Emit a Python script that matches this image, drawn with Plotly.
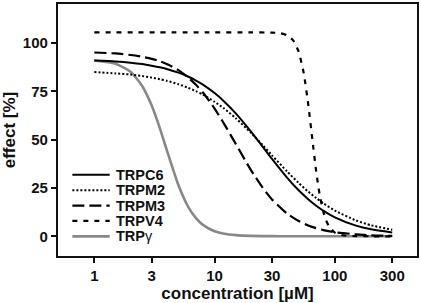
import plotly.graph_objects as go

# ---- data ----
conc = [1, 1.5, 2, 2.5, 3, 3.5, 4, 5, 6, 7, 8, 10, 12, 15, 20, 25, 30, 40, 50,
        60, 70, 80, 100, 150, 200, 300]
trpc6 = [90.9, 90.4, 89.8, 89.1, 88.3, 87.5, 86.6, 84.7, 82.7, 80.6, 78.5, 74.1,
         69.8, 63.6, 54.3, 46.5, 40.0, 30.4, 23.8, 19.2, 15.8, 13.3, 9.8, 5.5, 3.6, 2.0]
trpm2 = [85.0, 84.3, 83.7, 82.9, 82.1, 81.3, 80.5, 78.7, 76.9, 75.1, 73.3, 69.6,
         66.1, 61.1, 53.6, 47.3, 41.9, 33.6, 27.6, 23.1, 19.8, 17.1, 13.3, 8.2, 5.7, 3.4]
trpm3 = [95.1, 94.6, 93.8, 92.9, 91.8, 90.6, 89.2, 86.0, 82.3, 78.4, 74.4, 66.1,
         58.2, 47.8, 34.4, 25.3, 19.1, 11.8, 7.9, 5.6, 4.2, 3.2, 2.1, 1.0, 0.5, 0.2]
trpg = [91.0, 89.3, 85.1, 77.8, 67.7, 56.1, 44.7, 26.5, 15.5, 9.4, 5.9, 2.6,
        1.3, 0.6, 0.2, 0.1, 0.1, 0.0, 0.0, 0.0, 0.0, 0.0, 0.0, 0.0, 0.0, 0.0]
conc_v4 = [1, 10, 20, 30, 35, 40, 45, 50, 55, 60, 65, 70, 75, 80, 85, 90, 100,
           120, 150, 200, 300]
trpv4 = [105.5, 105.5, 105.5, 105.4, 105.1, 104.0, 101.4, 95.5, 84.7, 68.5, 50.1,
         33.4, 21.0, 12.9, 7.9, 4.9, 1.9, 0.4, 0.1, 0.0, 0.0]

names = ["<b>TRPC6</b>", "<b>TRPM2</b>", "<b>TRPM3</b>", "<b>TRPV4</b>", "<b>TRP</b>γ"]
xs = [conc, conc, conc, conc_v4, conc]
ys = [trpc6, trpm2, trpm3, trpv4, trpg]
colors = ["#000000", "#000000", "#000000", "#000000", "#888888"]
widths = [2, 2, 2.2, 2.2, 2.6]
dashes = ["solid", "2px,2px", "12px,5px", "5px,6px", "solid"]

x_ticks = [1, 3, 10, 30, 100, 300]
y_ticks = [0, 25, 50, 75, 100]

FONT = "Liberation Sans, Arial, sans-serif"

fig = go.Figure()
order = [4, 0, 1, 2, 3]
for i in order:
    fig.add_trace(go.Scatter(
        x=xs[i], y=ys[i], mode="lines", name=names[i], showlegend=False,
        line=dict(color=colors[i], width=widths[i], dash=dashes[i],
                  shape="spline", smoothing=0.6),
    ))

# legend drawn as keys + labels (compact spacing as in the original)
leg_y0 = 0.322
leg_step = 0.061
shapes = []
annotations = []
for i, nm in enumerate(names):
    yy = leg_y0 - i * leg_step
    shapes.append(dict(type="line", xref="paper", yref="paper",
                       x0=0.040, x1=0.144, y0=yy, y1=yy,
                       line=dict(color=colors[i], width=widths[i], dash=dashes[i])))
    annotations.append(dict(xref="paper", yref="paper", x=0.155, y=yy,
                            xanchor="left", yanchor="middle", text=nm,
                            showarrow=False,
                            font=dict(family=FONT, size=14.5, color="#111111")))

axis_common = dict(
    showline=True, linecolor="#111111", linewidth=2.2, mirror=True,
    ticks="outside", ticklen=5, tickwidth=2, tickcolor="#111111",
    showgrid=False, zeroline=False,
    tickfont=dict(family=FONT, size=15, color="#111111"),
)

fig.update_layout(
    width=421, height=303,
    margin=dict(l=58, r=3, t=2, b=47),
    paper_bgcolor="white", plot_bgcolor="white",
    font=dict(family=FONT, color="#111111"),
    xaxis=dict(type="log", range=[-0.302, 2.683], tickvals=x_ticks,
               ticktext=["<b>%g</b>" % v for v in x_ticks],
               title=dict(text="<b>concentration [µM]</b>", standoff=2,
                          font=dict(family=FONT, size=17, color="#111111")),
               **axis_common),
    yaxis=dict(range=[-10.2, 120.2], tickvals=y_ticks,
               ticktext=["<b>%g</b>" % v for v in y_ticks],
               title=dict(text="<b>effect [%]</b>", standoff=6,
                          font=dict(family=FONT, size=17, color="#111111")),
               **axis_common),
    shapes=shapes,
    annotations=annotations,
    showlegend=False,
)

fig.write_html("out.html", config={"displayModeBar": False},
               post_script="document.body.style.margin='0';document.body.style.padding='0';")
